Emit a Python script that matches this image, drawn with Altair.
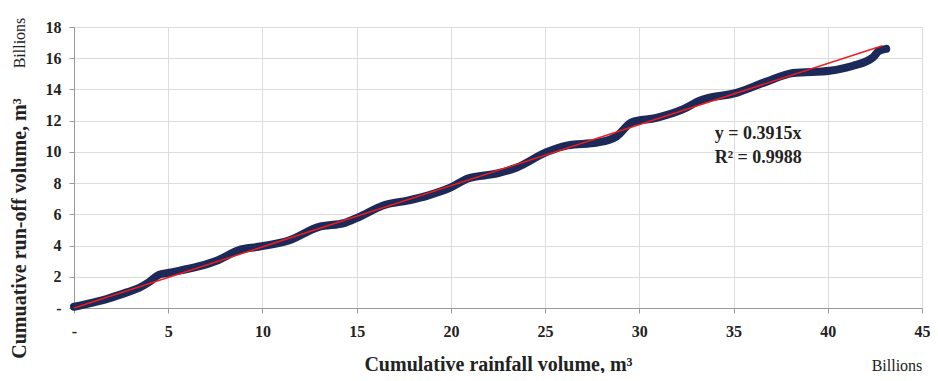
import altair as alt
import pandas as pd

# Cumulative rainfall volume (billions m3) and cumulative run-off volume (billions m3)
rain_x = [0.0, 1.0, 1.85, 2.8, 3.44, 3.97, 4.5, 5.0, 6.6, 7.67, 8.73, 9.78, 11.4,
          12.96, 14.37, 15.07, 16.48, 17.7, 18.77, 20.0, 20.9, 22.47, 23.5, 25.1,
          26.2, 27.76, 28.8, 29.6, 30.9, 32.3, 33.2, 35.2, 36.75, 38.16, 40.1,
          41.3, 42.4, 42.7, 43.1]
runoff_y = [0.08, 0.35, 0.62, 1.0, 1.28, 1.65, 2.12, 2.25, 2.66, 3.08, 3.7, 3.92, 4.32,
            5.18, 5.45, 5.8, 6.6, 6.88, 7.2, 7.72, 8.3, 8.62, 9.0, 10.0,
            10.42, 10.6, 11.0, 11.9, 12.18, 12.72, 13.28, 13.8, 14.5, 15.05, 15.2,
            15.5, 16.05, 16.45, 16.6]

trend_x = [0.0, 42.9]
trend_y = [0.0, 16.8]

x_ticks = [0, 5, 10, 15, 20, 25, 30, 35, 40, 45]
y_ticks = [0, 2, 4, 6, 8, 10, 12, 14, 16, 18]

eq_lines = ["y = 0.3915x", "R² = 0.9988"]
eq_x = [34.0, 34.0]
eq_y = [11.17, 9.64]

FONT = "Liberation Serif"
NAVY = "#1c2959"
RED = "#ee1c1c"

obs = pd.DataFrame({"x": rain_x, "y": runoff_y})
trend = pd.DataFrame({"x": trend_x, "y": trend_y})
eq = pd.DataFrame({"t": eq_lines, "x": eq_x, "y": eq_y})

x_scale = alt.Scale(domain=[0, 45], nice=False, zero=True)
y_scale = alt.Scale(domain=[0, 18], nice=False, zero=True)

x_axis = alt.Axis(
    values=x_ticks, labelExpr="datum.value == 0 ? '-' : datum.label",
    title="Cumulative rainfall volume, m³", titleFont=FONT, titleFontSize=20,
    titleFontWeight="bold", titleColor="#222", titleY=56, titleBaseline="middle",
    labelFont=FONT, labelFontSize=16, labelFontWeight="bold", labelColor="#222",
    labelPadding=10, labelOverlap=False, labelFlush=False,
    tickSize=5, tickColor="#999", domainColor="#999",
    gridColor="#dcdcdc", grid=True,
)
y_axis = alt.Axis(
    values=y_ticks, tickCount=10, labelExpr="datum.value == 0 ? '-' : datum.label",
    title="Cumuative run-off volume, m³", titleFont=FONT, titleFontSize=20,
    titleFontWeight="bold", titleColor="#222", titleX=-55, titleY=201,
    titleAngle=270, titleAlign="center", titleBaseline="middle",
    labelFont=FONT, labelFontSize=16, labelFontWeight="bold", labelColor="#222",
    labelPadding=8, labelOverlap=False, labelFlush=False,
    tickSize=5, tickColor="#999", domainColor="#999",
    gridColor="#dcdcdc", grid=True,
)

X = alt.X("x:Q", scale=x_scale, axis=x_axis)
Y = alt.Y("y:Q", scale=y_scale, axis=y_axis)

base_line = alt.Chart(obs).mark_line(
    color=NAVY, strokeWidth=8, strokeCap="round", strokeJoin="round",
    interpolate="monotone"
).encode(x=X, y=Y)

trend_line = alt.Chart(trend).mark_line(color=RED, strokeWidth=1.5).encode(x=X, y=Y)

eq_text = alt.Chart(eq).mark_text(
    font=FONT, fontSize=18, fontWeight="bold", align="left", baseline="middle", color="#222"
).encode(x=X, y=Y, text="t:N")

bill = pd.DataFrame({"t": ["Billions"]})
bill_top = alt.Chart(bill).mark_text(
    font=FONT, fontSize=16, angle=270, align="center", baseline="middle", color="#222"
).encode(x=alt.value(-54), y=alt.value(16), text="t:N")
bill_bottom = alt.Chart(bill).mark_text(
    font=FONT, fontSize=16, align="center", baseline="middle", color="#222"
).encode(x=alt.value(823), y=alt.value(58), text="t:N")

chart = alt.layer(base_line, trend_line, eq_text, bill_top).properties(
    width=848, height=281,
    autosize=alt.AutoSizeParams(type="none"),
    padding={"left": 66, "top": 19, "right": 8, "bottom": 65},
    background="white",
).configure_view(strokeWidth=0)

# bottom-right unit label placed relative to plot bottom
chart = alt.layer(
    base_line, trend_line, eq_text, bill_top,
    bill_bottom.encode(y=alt.value(281 + 58)),
).properties(
    width=848, height=281,
    autosize=alt.AutoSizeParams(type="none"),
    padding={"left": 66, "top": 19, "right": 8, "bottom": 65},
    background="white",
).configure_view(strokeWidth=0)

chart.save("out.html", embed_options={"renderer": "svg", "actions": False})
